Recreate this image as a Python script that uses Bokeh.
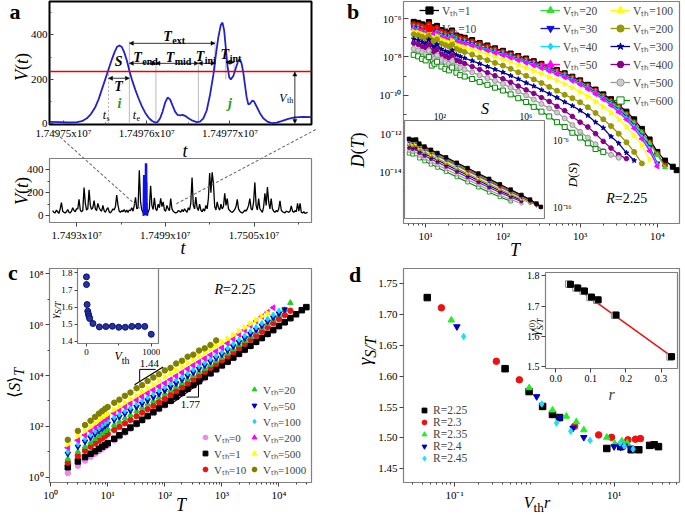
import numpy as np
from bokeh.plotting import figure
from bokeh.layouts import column, row
from bokeh.models import (Range1d, FixedTicker, CustomJSTickFormatter, Label, Span, Arrow,
                          NormalHead, Legend, LegendItem, Div)
from bokeh.embed import file_html
from bokeh.resources import INLINE

FONT = "Liberation Serif"
ROT = np.pi / 2

# ======================= DATA =======================
# (a) zoomed signal V(t)
t_zoom = [17497483, 17497495, 17497505, 17497515, 17497522, 17497528, 17497533, 17497538, 17497542, 17497546,
          17497550, 17497554, 17497558, 17497561, 17497564, 17497567, 17497570, 17497573, 17497576, 17497579,
          17497582, 17497586, 17497590, 17497594, 17497598, 17497602, 17497606, 17497610, 17497613, 17497616,
          17497619, 17497622, 17497625, 17497628, 17497631, 17497634, 17497637, 17497640, 17497643, 17497646,
          17497650, 17497655, 17497660, 17497664, 17497668, 17497672, 17497676, 17497680, 17497683, 17497686,
          17497689, 17497691, 17497693, 17497695, 17497697, 17497699, 17497701, 17497704, 17497707, 17497710,
          17497712, 17497714, 17497716, 17497718, 17497720, 17497722, 17497724, 17497727, 17497729, 17497732,
          17497736, 17497740, 17497745, 17497750, 17497756, 17497762, 17497770, 17497778, 17497788, 17497799]
v_zoom = [9, 8, 6, 7, 12, 25, 45, 75, 110, 155, 200, 245, 290, 320, 345, 352, 345, 320, 285, 240,
          200, 155, 115, 80, 50, 28, 14, 6, 8, 25, 55, 95, 118, 110, 82, 55, 40, 38, 40, 36,
          25, 14, 8, 10, 25, 60, 130, 220, 310, 390, 445, 455, 420, 340, 260, 210, 200, 215, 250, 285,
          290, 270, 230, 175, 120, 88, 90, 105, 100, 78, 48, 25, 10, 3, 5, 12, 22, 29, 31, 30]
v_threshold = 235
# event times in the zoomed window
t_s, t_e, t_m1, t_m2, t_i, t_p1, t_p2, t_vth = (17497554, 17497579, 17497611, 17497662,
                                                17497682, 17497695, 17497705, 17497778)
# (a) long signal, sampled every t_step starting at t_start
t_start = 17491370
t_step = 85
v_full = [45, 30, 25, 50, 35, 20, 60, 114, 40, 30, 25, 35, 55, 30, 25, 40, 70, 45, 35, 60,
          60, 143, 50, 35, 45, 245, 110, 50, 60, 225, 90, 55, 70, 131, 60, 45, 108, 70, 50, 40,
          90, 45, 30, 55, 70, 35, 25, 40, 60, 50, 80, 180, 95, 40, 30, 45, 35, 55, 30, 50,
          30, 50, 45, 70, 40, 90, 160, 60, 70, 394, 120, 50, 30, 25, 20, 25, 30, 60, 260, 90,
          55, 155, 60, 45, 100, 70, 152, 80, 120, 50, 40, 90, 60, 45, 150, 60, 40, 30, 25, 30,
          45, 40, 30, 55, 35, 60, 45, 30, 70, 50, 110, 332, 90, 60, 162, 70, 45, 100, 50, 35,
          60, 40, 90, 60, 150, 370, 200, 376, 283, 80, 50, 120, 70, 50, 100, 60, 80, 195, 90, 150,
          60, 45, 35, 30, 40, 55, 80, 143, 60, 40, 30, 25, 35, 50, 40, 60, 90, 148, 60, 50,
          120, 289, 90, 50, 150, 60, 45, 30, 80, 195, 90, 248, 120, 60, 150, 60, 40, 30, 45, 35,
          60, 130, 50, 35, 30, 25, 40, 35, 30, 40, 85, 40, 30, 45, 35, 108, 40, 108, 30, 25, 35, 20, 25, 30]

# (b) duration distributions, log10 D(T)
T_b = [7, 8, 9, 10, 11, 12, 13, 14, 16, 18, 20, 22, 25, 28, 32, 40, 50, 63, 79, 100, 126, 158, 200, 251,
       316, 398, 501, 631, 794, 1000, 1259, 1585, 1995, 2512, 3162, 3981, 5012, 6310, 7943, 10000,
       12589, 15849, 17783]
logD_b1 = [-6.17, -6.22, -6.30, -6.36, -6.18, -6.45, -6.52, -6.38, -6.6, -6.68, -6.75, -6.62, -6.88, -6.95, -7.0,
           -7.12, -7.27, -7.4, -7.55, -7.68, -7.82, -7.95, -8.08, -8.22, -8.36, -8.52, -8.68, -8.85, -9.03, -9.22,
           -9.45, -9.7, -9.95, -10.2, -10.5, -10.85, -11.25, -11.75, -12.3, -12.95, -13.4, -13.72, -13.9]
logD_b10 = [-6.29, -6.33, -6.4, -6.46, -6.3, -6.55, -6.61, -6.48, -6.68, -6.76, -6.83, -6.7, -6.95, -7.02, -7.07,
            -7.19, -7.33, -7.46, -7.6, -7.73, -7.87, -8.0, -8.13, -8.27, -8.41, -8.57, -8.73, -8.9, -9.08, -9.27,
            -9.5, -9.76, -10.02, -10.3, -10.6, -10.97, -11.4, -11.9, -12.45, -13.05, -13.65]
logD_b20 = [-6.42, -6.46, -6.53, -6.59, -6.43, -6.67, -6.73, -6.6, -6.8, -6.88, -6.95, -6.82, -7.06, -7.13, -7.18,
            -7.3, -7.43, -7.56, -7.69, -7.8, -7.93, -8.06, -8.19, -8.33, -8.47, -8.62, -8.78, -8.95, -9.13, -9.32,
            -9.55, -9.8, -10.07, -10.35, -10.65, -11.02, -11.45, -11.95, -12.5, -13.1, -13.75]
logD_b30 = [-6.47, -6.51, -6.58, -6.64, -6.48, -6.72, -6.78, -6.65, -6.85, -6.93, -7.0, -6.87, -7.1, -7.17, -7.22,
            -7.34, -7.47, -7.6, -7.72, -7.84, -7.97, -8.1, -8.23, -8.37, -8.51, -8.66, -8.82, -8.99, -9.17, -9.36,
            -9.6, -9.85, -10.12, -10.42, -10.75, -11.12, -11.57, -12.1, -12.7, -13.55]
logD_b40 = [-6.52, -6.56, -6.63, -6.69, -6.53, -6.77, -6.83, -6.7, -6.9, -6.97, -7.04, -6.92, -7.14, -7.21, -7.26,
            -7.38, -7.5, -7.63, -7.75, -7.87, -8.0, -8.13, -8.26, -8.4, -8.54, -8.69, -8.85, -9.02, -9.2, -9.39,
            -9.63, -9.89, -10.16, -10.46, -10.8, -11.18, -11.63, -12.17, -12.78, -13.62]
logD_b50 = [-6.57, -6.61, -6.68, -6.74, -6.58, -6.82, -6.88, -6.75, -6.95, -7.02, -7.09, -6.97, -7.19, -7.25, -7.3,
            -7.42, -7.54, -7.67, -7.79, -7.91, -8.04, -8.17, -8.3, -8.44, -8.58, -8.73, -8.89, -9.06, -9.24, -9.43,
            -9.67, -9.93, -10.21, -10.52, -10.87, -11.26, -11.72, -12.27, -12.9, -13.7]
logD_b100 = [-6.68, -6.72, -6.8, -6.87, -6.72, -6.95, -7.02, -6.9, -7.1, -7.18, -7.25, -7.14, -7.36, -7.43, -7.5,
             -7.62, -7.75, -7.88, -8.0, -8.13, -8.27, -8.42, -8.57, -8.72, -8.88, -9.05, -9.22, -9.41, -9.6, -9.82,
             -10.06, -10.32, -10.6, -10.9, -11.25, -11.65, -12.1, -12.6, -13.35]
logD_b200 = [-6.82, -6.87, -6.95, -7.03, -6.9, -7.12, -7.2, -7.08, -7.3, -7.38, -7.46, -7.35, -7.58, -7.66, -7.74,
             -7.88, -8.03, -8.17, -8.31, -8.45, -8.62, -8.8, -8.98, -9.17, -9.36, -9.56, -9.76, -9.97, -10.15,
             -10.36, -10.62, -10.92, -11.25, -11.6, -12.0, -12.45, -12.95, -13.55]
logD_b300 = [-7.06, -7.12, -7.22, -7.3, -7.1, -7.42, -7.5, -7.35, -7.6, -7.7, -7.78, -7.65, -7.9, -7.98, -8.06,
             -8.2, -8.35, -8.5, -8.65, -8.8, -8.98, -9.15, -9.35, -9.52, -9.72, -9.92, -10.12, -10.35, -10.55,
             -10.79, -11.05, -11.4, -11.7, -12.15, -12.5, -13.0, -13.4]
logD_b400 = [-7.28, -7.35, -7.45, -7.52, -7.35, -7.68, -7.75, -7.6, -7.85, -7.95, -8.05, -7.9, -8.17, -8.25, -8.35,
             -8.5, -8.65, -8.82, -8.98, -9.14, -9.32, -9.52, -9.72, -9.9, -10.12, -10.32, -10.58, -10.8, -11.1,
             -11.4, -11.65, -12.0, -12.4, -12.75, -13.1, -13.3]
logD_b500 = [-7.58, -7.65, -7.76, -7.85, -7.68, -8.0, -8.08, -7.92, -8.16, -8.26, -8.36, -8.22, -8.48, -8.56, -8.66,
             -8.8, -8.95, -9.1, -9.25, -9.4, -9.6, -9.8, -10.0, -10.22, -10.45, -10.68, -10.9, -11.2, -11.55,
             -11.9, -12.2, -12.55, -12.9, -13.1, -13.25]
logD_b600 = [-7.89, -7.97, -8.1, -8.18, -8.0, -8.45, -8.35, -8.25, -8.5, -8.62, -8.7, -8.55, -8.82, -8.95, -9.02,
             -9.15, -9.3, -9.45, -9.6, -9.75, -9.95, -10.15, -10.35, -10.6, -10.85, -11.1, -11.4, -11.65, -11.95,
             -12.2, -12.5, -12.8, -12.95]

# (b) inset: size distributions, log10 S and log10 D(S)
logS_in = [0.78, 0.95, 1.11, 1.26, 1.5, 1.8, 2.1, 2.5, 3.0, 3.5, 4.0, 4.5, 5.0, 5.5, 6.0, 6.4, 6.7, 6.9]
logDS_1 = [-6.15, -6.3, -6.25, -6.88, -7.32, -7.8, -8.29, -8.94, -9.75, -10.56, -11.37, -12.18, -12.99, -13.8, -14.6, -15.3, -15.9, -16.4]
logDS_10 = [-6.27, -6.42, -6.37, -7.0, -7.44, -7.92, -8.41, -9.06, -9.87, -10.68, -11.49, -12.3, -13.1, -13.9, -14.7, -15.4, -16.0, -16.45]
logDS_20 = [-6.4, -6.55, -6.5, -7.13, -7.57, -8.05, -8.54, -9.19, -10.0, -10.81, -11.62, -12.42, -13.22, -14.02, -14.8, -15.5, -16.1]
logDS_30 = [-6.47, -6.62, -6.57, -7.2, -7.64, -8.12, -8.61, -9.26, -10.07, -10.88, -11.69, -12.49, -13.29, -14.08, -14.86, -15.55, -16.15]
logDS_40 = [-6.53, -6.68, -6.63, -7.26, -7.7, -8.18, -8.67, -9.32, -10.13, -10.94, -11.75, -12.55, -13.34, -14.13, -14.9, -15.6, -16.2]
logDS_50 = [-6.6, -6.75, -6.7, -7.33, -7.77, -8.25, -8.74, -9.39, -10.2, -11.01, -11.82, -12.62, -13.4, -14.18, -14.95, -15.65]
logDS_100 = [-6.75, -6.9, -6.85, -7.48, -7.92, -8.4, -8.89, -9.54, -10.35, -11.16, -11.96, -12.75, -13.53, -14.3, -15.05, -15.7]
logDS_200 = [-7.0, -7.15, -7.1, -7.73, -8.17, -8.65, -9.14, -9.79, -10.6, -11.4, -12.2, -12.98, -13.75, -14.5, -15.2, -15.8]
logDS_300 = [-7.25, -7.4, -7.35, -7.98, -8.42, -8.9, -9.39, -10.04, -10.85, -11.65, -12.44, -13.22, -13.98, -14.7, -15.4]
logDS_400 = [-7.55, -7.7, -7.65, -8.28, -8.72, -9.2, -9.69, -10.34, -11.14, -11.94, -12.72, -13.5, -14.25, -14.95, -15.6]
logDS_500 = [-7.95, -8.1, -8.05, -8.68, -9.12, -9.6, -10.08, -10.72, -11.52, -12.3, -13.08, -13.85, -14.6, -15.3, -15.9]
logDS_600 = [-8.35, -8.5, -8.45, -9.08, -9.52, -10.0, -10.48, -11.1, -11.9, -12.68, -13.45, -14.2, -14.9, -15.55]

# (c) mean size vs duration, log10 <S>_T
T_c = [2, 3, 4, 5, 6, 7, 8, 9, 10, 13, 16, 20, 25, 32, 40, 50, 63, 79, 100, 126, 158, 200, 251, 316, 398, 501,
       631, 794, 1000, 1259, 1585, 1995, 2512, 3162, 3981, 5012, 6310, 7943, 10000, 12589, 15849, 19953, 25119, 30200]
logS_c0 = [0.16, 0.45, 0.65, 0.8, 0.92, 1.03, 1.12, 1.2, 1.27, 1.45, 1.6, 1.75, 1.9, 2.07, 2.22, 2.37, 2.52, 2.67,
           2.82, 2.98, 3.13, 3.29, 3.45, 3.6, 3.75, 3.91, 4.06, 4.22, 4.37, 4.52, 4.68, 4.83, 4.99, 5.14, 5.3, 5.45,
           5.61, 5.76, 5.92, 6.07, 6.23]
logS_c1 = [0.39, 0.62, 0.79, 0.92, 1.02, 1.12, 1.2, 1.27, 1.34, 1.51, 1.65, 1.8, 1.95, 2.11, 2.26, 2.41, 2.56, 2.71,
           2.86, 3.01, 3.17, 3.32, 3.48, 3.63, 3.78, 3.94, 4.09, 4.25, 4.4, 4.55, 4.71, 4.86, 5.02, 5.17, 5.33, 5.48,
           5.64, 5.79, 5.95, 6.1, 6.26, 6.41, 6.57, 6.69]
logS_c10 = [0.57, 0.84, 1.04, 1.2, 1.33, 1.44, 1.54, 1.62, 1.7, 1.86, 1.98, 2.12, 2.25, 2.4, 2.54, 2.68, 2.81, 2.95,
            3.09, 3.24, 3.39, 3.54, 3.69, 3.85, 4.0, 4.15, 4.3, 4.45, 4.6, 4.76, 4.92, 5.08, 5.25, 5.41, 5.57, 5.73,
            5.9, 6.06, 6.22, 6.38, 6.55]
logS_c20 = [0.72, 1.0, 1.2, 1.36, 1.5, 1.62, 1.72, 1.82, 1.9, 2.06, 2.18, 2.32, 2.45, 2.6, 2.73, 2.87, 3.0, 3.14,
            3.28, 3.42, 3.56, 3.71, 3.85, 3.99, 4.13, 4.27, 4.42, 4.56, 4.7, 4.87, 5.03, 5.2, 5.37, 5.54, 5.71, 5.88,
            6.04, 6.21, 6.38, 6.58, 6.86]
logS_c50 = [0.92, 1.2, 1.4, 1.56, 1.7, 1.82, 1.92, 2.01, 2.1, 2.25, 2.37, 2.5, 2.62, 2.76, 2.89, 3.02, 3.15, 3.28,
            3.41, 3.55, 3.69, 3.84, 3.98, 4.12, 4.26, 4.4, 4.55, 4.69, 4.83, 4.99, 5.15, 5.31, 5.47, 5.63, 5.8, 5.96,
            6.12, 6.28, 6.44, 6.6]
logS_c100 = [1.0, 1.3, 1.5, 1.66, 1.8, 1.92, 2.03, 2.12, 2.2, 2.35, 2.47, 2.6, 2.73, 2.88, 3.01, 3.14, 3.27, 3.41,
             3.54, 3.68, 3.82, 3.95, 4.09, 4.23, 4.37, 4.5, 4.64, 4.78, 4.92, 5.08, 5.25, 5.41, 5.57, 5.74, 5.9, 6.06,
             6.23, 6.39, 6.55]
logS_c200 = [1.16, 1.45, 1.66, 1.82, 1.96, 2.08, 2.19, 2.28, 2.36, 2.51, 2.63, 2.77, 2.9, 3.04, 3.17, 3.3, 3.43, 3.57,
             3.7, 3.84, 3.98, 4.12, 4.26, 4.4, 4.53, 4.67, 4.81, 4.95, 5.09, 5.27, 5.44, 5.62, 5.79, 5.97, 6.14, 6.32,
             6.49, 6.67]
logS_c500 = [1.3, 1.62, 1.82, 1.98, 2.12, 2.24, 2.34, 2.42, 2.49, 2.66, 2.79, 2.93, 3.07, 3.22, 3.36, 3.5, 3.65, 3.8,
             3.94, 4.08, 4.21, 4.35, 4.49, 4.62, 4.76, 4.9, 5.04, 5.17, 5.31, 5.45, 5.6, 5.75, 5.89, 6.04, 6.18, 6.33,
             6.45]
logS_c1000 = [1.47, 1.82, 2.05, 2.22, 2.37, 2.5, 2.6, 2.69, 2.76, 2.93, 3.05, 3.2, 3.33, 3.5, 3.62, 3.78, 3.92, 4.05,
              4.2, 4.3, 4.47, 4.58, 4.74, 4.82, 4.98, 5.07, 5.2, 5.38]
# (c) slope guides (log10 T, log10 S)
guide144_T = [1.47, 1.97]
guide144_S = [3.64, 4.33]
guide177_T = [2.15, 2.68]
guide177_S = [2.95, 3.81]
# (c) inset: exponent vs threshold
vth_inset = [0, 1, 10, 20, 30, 40, 50, 100, 200, 300, 400, 500, 600, 700, 800, 900, 1000]
gamma_inset = [1.777, 1.732, 1.615, 1.576, 1.56, 1.545, 1.533, 1.504, 1.484, 1.486, 1.488, 1.482, 1.482, 1.487,
               1.488, 1.487, 1.441]

# (d) exponent vs V_th r
x_d225 = [0.0455, 0.43, 0.86, 1.27, 1.69, 2.07, 8.1, 12.1, 16.4, 20.4, 27.9, 31.8, 36.0]
y_d225 = [1.727, 1.612, 1.575, 1.551, 1.538, 1.533, 1.483, 1.486, 1.481, 1.481, 1.488, 1.489, 1.486]
x_d23 = [0.0684, 0.334, 0.649, 3.2, 6.4, 9.3, 14.9, 18.5, 21.4]
y_d23 = [1.7105, 1.624, 1.594, 1.519, 1.505, 1.501, 1.497, 1.498, 1.499]
x_d235 = [0.091, 0.863, 1.69, 2.52, 3.36, 4.17, 8.1, 10.2, 12.5, 14.6]
y_d235 = [1.6905, 1.581, 1.545, 1.535, 1.526, 1.513, 1.501, 1.491, 1.495, 1.492]
x_d24 = [0.107, 1.07, 2.09, 3.06, 4.17, 10.0, 12.1, 13.5, 16.1]
y_d24 = [1.680, 1.567, 1.533, 1.516, 1.501, 1.486, 1.485, 1.487, 1.484]
x_d245 = [0.130, 1.24, 1.9, 2.86, 5.0, 11.9, 13.4, 17.3]
y_d245 = [1.664, 1.555, 1.524, 1.511, 1.496, 1.492, 1.487, 1.482]
# (d) inset: gamma^(0) vs r
r_fill = [0.042, 0.063, 0.082, 0.102, 0.121, 0.172, 0.330]
g_fill = [1.772, 1.760, 1.750, 1.730, 1.721, 1.671, 1.534]
r_open = [0.037, 0.058, 0.078, 0.098, 0.117, 0.168, 0.326]
g_open = [1.773, 1.760, 1.750, 1.729, 1.720, 1.670, 1.533]
r_fit = [0.04, 0.33]
g_fit = [1.776, 1.535]

# ======================= HELPERS =======================
SUP_JS = """
const m = {"-":"\u207b","0":"\u2070","1":"\u00b9","2":"\u00b2","3":"\u00b3","4":"\u2074","5":"\u2075","6":"\u2076","7":"\u2077","8":"\u2078","9":"\u2079"};
const e = Math.round(Math.log10(tick));
return "10" + String(e).split("").map(c => m[c]).join("");
"""


def mkfig(w, h, bl, br, bt, bb, xr, yr, xt="linear", yt="linear", xloc="below", yloc="left",
          fs="11px", tick_in=False, frame_mode=False):
    size = dict(frame_width=w, frame_height=h) if frame_mode else dict(width=w, height=h)
    p = figure(x_range=xr, y_range=yr, x_axis_type=xt, y_axis_type=yt,
               x_axis_location=xloc, y_axis_location=yloc, output_backend="svg", toolbar_location=None,
               min_border_left=bl, min_border_right=br, min_border_top=bt, min_border_bottom=bb, **size)
    p.xgrid.visible = False
    p.ygrid.visible = False
    p.outline_line_color = "#808080"
    p.outline_line_width = 1.2
    p.background_fill_color = "white"
    p.border_fill_color = "white"
    for ax in list(p.xaxis) + list(p.yaxis):
        ax.axis_line_color = None
        ax.major_tick_line_color = "#444444"
        ax.minor_tick_line_color = "#444444"
        ax.major_label_text_font = FONT
        ax.major_label_text_font_size = fs
        ax.major_label_text_color = "black"
        ax.axis_label_text_font = FONT
        ax.axis_label_text_font_style = "italic"
        ax.axis_label_text_font_size = "16px"
        ax.axis_label_standoff = 1
        if tick_in:
            ax.major_tick_in, ax.major_tick_out = 4, 0
            ax.minor_tick_in, ax.minor_tick_out = 2, 0
        else:
            ax.major_tick_in, ax.major_tick_out = 0, 4
            ax.minor_tick_in, ax.minor_tick_out = 0, 2
        ax.major_label_standoff = 2
    return p


def lab(p, x, y, text, size=13, style="normal", color="black", align="center", baseline="middle",
        units="data", xo=0, yo=0):
    p.add_layout(Label(x=x, y=y, x_units=units, y_units=units, text=text, text_font=FONT,
                       text_font_size=f"{size}px", text_font_style=style, text_color=color,
                       text_align=align, text_baseline=baseline, x_offset=xo, y_offset=yo))


def sublab(p, x, y, main, sub, size=14, subsize=10, style="italic", substyle="normal", color="black", drop=4):
    lab(p, x, y, main, size, style, color, align="right", baseline="alphabetic")
    lab(p, x, y, sub, subsize, substyle, color, align="left", baseline="alphabetic", xo=0.5, yo=-drop)


def log_ticks(p_axis, majors, minors):
    p_axis.ticker = FixedTicker(ticks=majors, minor_ticks=minors)
    p_axis.formatter = CustomJSTickFormatter(code=SUP_JS)


def decade_minors(lo, hi):
    return [m * 10.0 ** e for e in range(lo, hi) for m in range(2, 10)]


def add_legend(p, items, x, y, glyph_w=20, row_h=17, size="11.5px"):
    leg = Legend(items=items, location=(x, y), orientation="vertical", glyph_width=glyph_w,
                 glyph_height=row_h, label_height=row_h, spacing=0, padding=0, margin=0,
                 label_standoff=3, border_line_alpha=0, background_fill_alpha=0,
                 label_text_font=FONT, label_text_font_size=size)
    p.add_layout(leg)


def vth_text(v):
    return "V\u209c\u2095=" + str(v)


def place(model, left, top):
    model.border_fill_alpha = 0
    model.styles = {"position": "absolute", "left": f"{left}px", "top": f"{top}px", "z-index": "5"}
    return model


def tdiv(html, x, y, size=17, rotate=False, anchor="center"):
    tx = "-50%" if anchor == "center" else "0"
    tr = f"translate({tx}, -50%)" + (" rotate(-90deg)" if rotate else "")
    return Div(text=html, styles={"position": "absolute", "left": f"{x}px", "top": f"{y}px",
                                  "transform": tr, "font-family": f"'{FONT}', serif",
                                  "font-size": f"{size}px", "white-space": "nowrap",
                                  "line-height": "1", "color": "black", "z-index": "6"})


def connector(x0, y0, x1, y1):
    # dotted zoom guide between the two panel-(a) plots
    length = float(np.hypot(x1 - x0, y1 - y0))
    ang = float(np.degrees(np.arctan2(y1 - y0, x1 - x0)))
    return Div(text="", styles={"position": "absolute", "left": f"{x0}px", "top": f"{y0}px",
                                "width": f"{length:.1f}px", "height": "0px",
                                "border-top": "1px dashed #666666", "transform-origin": "0 0",
                                "transform": f"rotate({ang:.2f}deg)", "z-index": "4"})


# ======================= PANEL A =======================
pa1 = mkfig(340, 152, 48, 29, 1, 28, Range1d(17497483, 17497798), Range1d(-3, 550), tick_in=True)
pa1.outline_line_color = "black"
pa1.outline_line_width = 2
pa1.xaxis.ticker = FixedTicker(ticks=[17497500, 17497600, 17497700],
                               minor_ticks=[17497550, 17497650, 17497750])
pa1.xaxis.formatter = CustomJSTickFormatter(code='return (tick/1e7).toFixed(5) + "x10\u2077";')
pa1.yaxis.ticker = FixedTicker(ticks=[0, 200, 400], minor_ticks=[100, 300, 500])
pa1.segment([t_s], [0], [t_s], [v_threshold], line_color="#999999", line_width=0.8, line_dash="2 2")
pa1.segment([t_e, t_m1, t_m2], [0, 0, 0], [t_e, t_m1, t_m2], [372, 290, 290], line_color="#aaaaaa", line_width=0.8)
pa1.segment([t_i, t_p1, t_p2], [232, 200, 232], [t_i, t_p1, t_p2], [372, 290, 290], line_color="#aaaaaa", line_width=0.8)
pa1.line(t_zoom, v_zoom, line_color="#2222cc", line_width=1.8)
pa1.add_layout(Span(location=v_threshold, dimension="width", line_color="#ee0000", line_width=1.5))


def dbl_arrow(p, x0, y0, x1, y1, size=4):
    p.add_layout(Arrow(start=NormalHead(size=size, fill_color="black", line_color="black", line_width=0.5),
                       end=NormalHead(size=size, fill_color="black", line_color="black", line_width=0.5),
                       x_start=x0, y_start=y0, x_end=x1, y_end=y1, line_width=0.8, line_color="black"))


dbl_arrow(pa1, t_e, 362, t_i, 362)
dbl_arrow(pa1, t_e, 272, t_m1, 272)
dbl_arrow(pa1, t_m1, 272, t_m2, 272)
dbl_arrow(pa1, t_m2, 272, t_i, 272)
dbl_arrow(pa1, t_p1, 277, t_p2, 277)
dbl_arrow(pa1, t_s, 205, t_e, 205)
dbl_arrow(pa1, t_vth, 2, t_vth, v_threshold - 2)
sublab(pa1, 17497630, 392, "T", "ext", size=14, subsize=10, style="bold italic", substyle="bold")
sublab(pa1, 17497594, 298, "T", "end", size=14, subsize=10, style="bold italic", substyle="bold")
sublab(pa1, 17497633, 298, "T", "mid", size=14, subsize=10, style="bold italic", substyle="bold")
sublab(pa1, 17497669, 303, "T", "ini", size=14, subsize=10, style="bold italic", substyle="bold")
sublab(pa1, 17497699, 312, "T", "int", size=14, subsize=10, style="bold italic", substyle="bold")
lab(pa1, 17497566, 278, "S", 14, "bold italic")
lab(pa1, 17497566, 170, "T", 14, "bold italic")
lab(pa1, 17497567, 92, "i", 14, "bold italic", color="#229922")
lab(pa1, 17497700, 92, "j", 14, "bold italic", color="#229922")
sublab(pa1, 17497551, 38, "t", "s", size=12, subsize=8, drop=3)
sublab(pa1, 17497587, 38, "t", "e", size=12, subsize=8, drop=3)
sublab(pa1, 17497768, 118, "V", "th", size=12, subsize=8, drop=3)

pa2 = mkfig(340, 103, 49, 28, 6, 33, Range1d(17491157, 17508888), Range1d(-58, 496))
pa2.xaxis.ticker = FixedTicker(ticks=[17493000, 17499000, 17505000],
                               minor_ticks=[17496000, 17502000, 17508000])
pa2.xaxis.formatter = CustomJSTickFormatter(code='return (tick/1e7).toFixed(4) + "x10\u2077";')
pa2.yaxis.ticker = FixedTicker(ticks=[0, 200, 400], minor_ticks=[100, 300])
t_full = [t_start + k * t_step for k in range(len(v_full))]
pa2.line(t_full, v_full, line_color="black", line_width=1.3)
pa2.line(t_zoom, v_zoom, line_color="#1010ee", line_width=2.5)

# ======================= PANEL B =======================
pb = mkfig(345, 255, 61, 6, 1, 32, Range1d(10 ** 0.713, 10 ** 4.287), Range1d(10 ** -16.68, 10 ** -5.11),
           xt="log", yt="log")
log_ticks(pb.xaxis[0], [10, 100, 1000, 10000], decade_minors(0, 5))
log_ticks(pb.yaxis[0], [1e-14, 1e-12, 1e-10, 1e-8, 1e-6], [1e-15, 1e-13, 1e-11, 1e-9, 1e-7])
pb.yaxis.major_tick_in, pb.yaxis.major_tick_out = 5, 0
pb.yaxis.minor_tick_in, pb.yaxis.minor_tick_out = 3, 0

b_specs = [
    (1, logD_b1, "#000000", "square", 0.0, "#000000"),
    (10, logD_b10, "#ff0000", "circle", 0.0, "#ff0000"),
    (20, logD_b20, "#33dd33", "triangle", 0.0, "#33dd33"),
    (30, logD_b30, "#1010ee", "inverted_triangle", 0.0, "#1010ee"),
    (40, logD_b40, "#00e5ff", "diamond", 0.0, "#00e5ff"),
    (50, logD_b50, "#ff00ff", "triangle", ROT, "#ff00ff"),
    (100, logD_b100, "#ffff00", "triangle", -ROT, "#ffff00"),
    (200, logD_b200, "#999900", "circle", 0.0, "#999900"),
    (300, logD_b300, "#000099", "star", 0.0, "#000099"),
    (400, logD_b400, "#880088", "hex", 0.0, "#880088"),
    (500, logD_b500, "#999999", "circle", 0.0, "#cccccc"),
    (600, logD_b600, "#008800", "square", 0.0, "#ffffff"),
]
b_items = {}
for vth, vals, col, mk, ang, fill in b_specs:
    xs = T_b[:len(vals)]
    ys = [10 ** v for v in vals]
    rl = pb.line(xs, ys, line_color=col, line_width=1.3)
    rs = pb.scatter(xs, ys, marker=mk, angle=ang, size=5, fill_color=fill, line_color=col, line_width=1)
    b_items[vth] = LegendItem(label=vth_text(vth), renderers=[rl, rs])
add_legend(pb, [b_items[1], b_items[10]], 16, 186, row_h=18)
add_legend(pb, [b_items[v] for v in (20, 30, 40, 50)], 137, 150, row_h=18)
add_legend(pb, [b_items[v] for v in (100, 200, 300, 400, 500, 600)], 207, 114, row_h=18)
lab(pb, 10 ** 3.45, 10 ** -15.4, "R", 14, "italic", align="right", baseline="alphabetic")
lab(pb, 10 ** 3.45, 10 ** -15.4, "=2.25", 14, align="left", baseline="alphabetic")

# inset of (b): no library axes here; its tick texts are overlaid below
pbi = mkfig(140, 98, 22, 1, 1, 1, Range1d(10 ** 0.57, 10 ** 7.07), Range1d(10 ** -18.15, 10 ** -3.4),
            xt="log", yt="log", xloc=None, yloc=None, frame_mode=True)
in_specs = [logDS_600, logDS_500, logDS_400, logDS_300, logDS_200, logDS_100, logDS_50, logDS_40,
            logDS_30, logDS_20, logDS_10, logDS_1]
for (vth, _, col, mk, ang, fill), vals in zip(reversed(b_specs), in_specs):
    xs = [10 ** v for v in logS_in[:len(vals)]]
    ys = [10 ** v for v in vals]
    pbi.line(xs, ys, line_color=col, line_width=1.1)
    pbi.scatter(xs, ys, marker=mk, angle=ang, size=3.5, fill_color=fill, line_color=col, line_width=0.8)
place(pbi, 382, 119)

# ======================= PANEL C =======================
pc = mkfig(340, 260, 49, 19, 13, 33, Range1d(10 ** -0.02, 10 ** 4.57), Range1d(10 ** -0.21, 10 ** 8.21),
           xt="log", yt="log")
log_ticks(pc.xaxis[0], [1, 10, 100, 1000, 10000], decade_minors(0, 5))
log_ticks(pc.yaxis[0], [1, 1e2, 1e4, 1e6, 1e8], [10, 1e3, 1e5, 1e7])
c_specs = [
    (0, logS_c0, "#ee88ee", "circle", 0.0),
    (1, logS_c1, "#000000", "square", 0.0),
    (10, logS_c10, "#ee1111", "circle", 0.0),
    (20, logS_c20, "#22cc22", "triangle", 0.0),
    (50, logS_c50, "#0000cc", "inverted_triangle", 0.0),
    (100, logS_c100, "#00e5ff", "diamond", 0.0),
    (200, logS_c200, "#ff00ff", "triangle", ROT),
    (500, logS_c500, "#ffff00", "triangle", -ROT),
    (1000, logS_c1000, "#808000", "circle", 0.0),
]
c_items = {}
for vth, vals, col, mk, ang in c_specs:
    xs = T_c[:len(vals)]
    ys = [10 ** v for v in vals]
    rs = pc.scatter(xs, ys, marker=mk, angle=ang, size=5.5, fill_color=col, line_color=col)
    c_items[vth] = LegendItem(label=vth_text(vth), renderers=[rs])
add_legend(pc, [c_items[v] for v in (0, 1, 10)], 150, 5, glyph_w=12, row_h=16, size="11px")
add_legend(pc, [c_items[v] for v in (20, 50, 100, 200, 500, 1000)], 199, 5, glyph_w=12, row_h=16, size="11px")
for gT, gS in ((guide144_T, guide144_S), (guide177_T, guide177_S)):
    pc.line([10 ** v for v in gT], [10 ** v for v in gS], line_color="black", line_width=1.2)
pc.line([10 ** 1.56, 10 ** 1.84], [10 ** 4.24, 10 ** 4.24], line_color="black", line_width=1)
pc.line([10 ** 1.56, 10 ** 1.56], [10 ** 4.24, 10 ** 3.77], line_color="black", line_width=1)
pc.line([10 ** 2.38, 10 ** 2.59], [10 ** 3.15, 10 ** 3.15], line_color="black", line_width=1)
pc.line([10 ** 2.59, 10 ** 2.59], [10 ** 3.15, 10 ** 3.68], line_color="black", line_width=1)
lab(pc, 10 ** 1.73, 10 ** 4.47, "1.44", 11)
lab(pc, 10 ** 2.45, 10 ** 2.86, "1.77", 11)
lab(pc, 10 ** 3.02, 10 ** 7.4, "R", 14, "italic", align="right")
lab(pc, 10 ** 3.02, 10 ** 7.4, "=2.25", 14, align="left")

pci = mkfig(81, 75, 22, 2, 2, 14, Range1d(-138, 1112), Range1d(1.387, 1.826), fs="9px", frame_mode=True)
pci.xaxis.ticker = FixedTicker(ticks=[0, 1000], minor_ticks=[500])
pci.yaxis.ticker = FixedTicker(ticks=[1.4, 1.5, 1.6, 1.7, 1.8])
pci.yaxis.formatter = CustomJSTickFormatter(code="return tick.toFixed(1);")
for ax in list(pci.xaxis) + list(pci.yaxis):
    ax.major_tick_out = 3
pci.scatter(vth_inset, gamma_inset, marker="circle", size=6, fill_color="#2233aa", line_color="#101060")
place(pci, 55, 266)

# ======================= PANEL D =======================
pd = mkfig(345, 260, 63, 2, 13, 33, Range1d(10 ** -1.64, 10 ** 1.82), Range1d(1.428, 1.774),
           xt="log")
log_ticks(pd.xaxis[0], [0.1, 10], decade_minors(-2, 2))
pd.yaxis.ticker = FixedTicker(ticks=[1.45, 1.5, 1.55, 1.6, 1.65, 1.7, 1.75])
pd.yaxis.formatter = CustomJSTickFormatter(code="return tick.toFixed(2);")
d_specs = [
    ("R=2.25", x_d225, y_d225, "#000000", "square"),
    ("R=2.3", x_d23, y_d23, "#ee1111", "circle"),
    ("R=2.35", x_d235, y_d235, "#22ee22", "triangle"),
    ("R=2.4", x_d24, y_d24, "#0000cc", "inverted_triangle"),
    ("R=2.45", x_d245, y_d245, "#22ddff", "diamond"),
]
d_items = []
for name, xs, ys, col, mk in d_specs:
    rs = pd.scatter(xs, ys, marker=mk, size=6.5, fill_color=col, line_color=col)
    d_items.append(LegendItem(label=name, renderers=[rs]))
add_legend(pd, d_items, 15, 18, glyph_w=12, row_h=12, size="11.5px")

pdi = mkfig(132, 96, 22, 6, 2, 36, Range1d(-0.029, 0.347), Range1d(1.495, 1.811), fs="10px", frame_mode=True)
pdi.xaxis.ticker = FixedTicker(ticks=[0.0, 0.1, 0.2, 0.3])
pdi.xaxis.formatter = CustomJSTickFormatter(code="return tick.toFixed(1);")
pdi.yaxis.ticker = FixedTicker(ticks=[1.5, 1.6, 1.7, 1.8])
pdi.yaxis.formatter = CustomJSTickFormatter(code="return tick.toFixed(1);")
pdi.xaxis.axis_label = "r"
pdi.line(r_fit, g_fit, line_color="#ee1111", line_width=1.5)
pdi.scatter(r_open, g_open, marker="square", size=6.5, fill_color="white", line_color="#888888", line_width=1)
pdi.scatter(r_fill, g_fill, marker="square", size=6, fill_color="black", line_color="black")
place(pdi, 523, 270)

# ======================= TEXT OVERLAYS =======================
divs = [
    tdiv("<b>a</b>", 10, 7, 22),
    tdiv("<b>b</b>", 348, 7, 22),
    tdiv("<b>c</b>", 8, 268, 22),
    tdiv("<b>d</b>", 350, 270, 22),
    tdiv("<i>V</i>(<i>t</i>)", 17, 62, 18, rotate=True),
    tdiv("<i>t</i>", 180, 146, 18),
    tdiv("<i>V</i>(<i>t</i>)", 17, 186, 18, rotate=True),
    tdiv("<i>t</i>", 178, 243, 18),
    tdiv("<i>D</i>(<i>T</i>)", 353, 145, 18, rotate=True),
    tdiv("<i>T</i>", 510, 245, 18),
    tdiv("<i>T</i>", 176, 500, 18),
    tdiv("&#10216;<i>S</i>&#10217;<sub><i>T</i></sub>", 11, 378, 17, rotate=True),
    tdiv("<i>&#947;</i><sub><i>S/T</i></sub>", 362, 346, 19, rotate=True),
    tdiv("<i>V</i><sub>th</sub><i>r</i>", 532, 500, 16),
    tdiv("<i>&#947;</i><sub><i>S/T</i></sub>", 51, 305, 11, rotate=True),
    tdiv("<i>V</i><sub>th</sub>", 117, 353, 12),
    tdiv("<i>&#947;</i><span style='display:inline-block;vertical-align:-0.45em;line-height:0.95;"
         "font-size:0.62em'>(0)<br><i>S/T</i></span>", 531, 322, 14, rotate=True),
    # inset (b) axis texts
    tdiv("<i>S</i>", 480, 104, 16),
    tdiv("10\u00b2", 435, 113, 9.5),
    tdiv("10\u2076", 521, 113, 9.5),
    tdiv("10\u207b\u2076", 548, 137, 9.5, anchor="left"),
    tdiv("10\u207b\u00b9\u2076", 548, 204, 9.5, anchor="left"),
    tdiv("<i>D</i>(<i>S</i>)", 567, 170, 13, rotate=True),
    connector(48, 125, 135, 203),
    connector(311, 125, 172, 199),
]

# ======================= LAYOUT =======================
left = column(pa1, pa2, pc)
right = column(pb, pd)
grid = row(left, right)
layout = column(grid, pbi, pci, pdi, *divs)

with open("out.html", "w") as f:
    f.write(file_html(layout, INLINE))
